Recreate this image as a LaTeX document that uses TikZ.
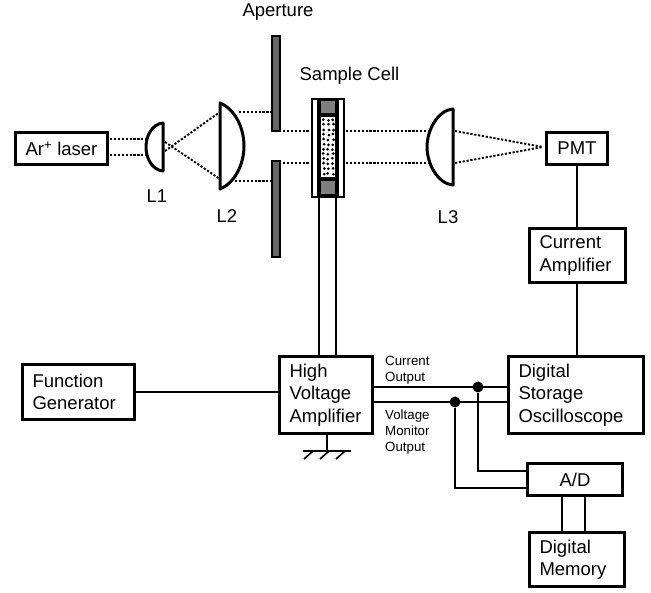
\documentclass[tikz,border=0pt]{standalone}
\usepackage{fontspec}
\setmainfont{Liberation Sans}

\begin{document}
\begin{tikzpicture}[x=1pt, y=-1pt, font=\fontsize{18.5}{22.5}\selectfont]
    \tikzstyle{box_black} = [draw=black, line width=3pt, fill=white, inner sep=0pt, inner xsep=10pt, align=left, anchor=north west]
    \tikzstyle{box_center} = [draw=black, line width=3pt, fill=white, inner sep=0pt, align=center, anchor=north west]
    \tikzstyle{label_small} = [inner sep=0pt, align=left, anchor=west, font=\fontsize{13.3}{16}\selectfont]
    \tikzstyle{label_plain} = [inner sep=0pt]
    \tikzstyle{wire_thin} = [black, line width=1.6pt]
    \tikzstyle{wire_thick} = [black, line width=2.2pt]
    \tikzstyle{beam_dot} = [black, line width=1.9pt, dash pattern=on 2.2pt off 1.7pt]
    \tikzstyle{lens_black} = [draw=black, line width=3pt, fill=white, line join=round]
    \tikzstyle{plate_grey} = [draw=black, line width=2.4pt, fill=black!60]
    \tikzstyle{dot_black} = [circle, fill=black, inner sep=0pt, minimum size=11pt]

    \useasboundingbox (0,0) rectangle (651,593);

    % boxes
    \node[box_center, minimum width=92pt, minimum height=32pt] (nLaser) at (14,131) {Ar\textsuperscript{+} laser};
    \node[box_center, minimum width=61pt, minimum height=32pt] (nPMT) at (545,131) {PMT};
    \node[box_black, minimum width=112pt, minimum height=55pt, text width=92pt] (nFunc) at (21,363) {Function\\Generator};
    \node[box_black, minimum width=96pt, minimum height=54pt, text width=76pt] (nCurr) at (528,227) {Current\\Amplifier};
    \node[box_black, minimum width=93pt, minimum height=77pt, text width=73pt] (nHigh) at (278,355) {High\\Voltage\\Amplifier};
    \node[box_black, minimum width=135pt, minimum height=77pt, text width=115pt] (nScope) at (507,355) {Digital\\Storage\\Oscilloscope};
    \node[box_center, minimum width=95pt, minimum height=32pt] (nAD) at (526,462) {A/D};
    \node[box_black, minimum width=95pt, minimum height=54pt, text width=75pt] (nMem) at (528,531) {Digital\\Memory};

    % beam
    \coordinate (bLa) at (110,139);
    \coordinate (bLb) at (110,155);
    \coordinate (bAa) at (147,139);
    \coordinate (bAb) at (147,155);
    \coordinate (bBa) at (165,142);
    \coordinate (bBb) at (165,151);
    \coordinate (bCa) at (220,112);
    \coordinate (bCb) at (220,179);
    \coordinate (bDa) at (239,112);
    \coordinate (bDb) at (235,181);
    \coordinate (bEa) at (271,112);
    \coordinate (bEb) at (271,181);
    \coordinate (bFa) at (283,131);
    \coordinate (bFb) at (283,163);
    \coordinate (bGa) at (310,131);
    \coordinate (bGb) at (310,163);
    \coordinate (bHa) at (346,131);
    \coordinate (bHb) at (346,163);
    \coordinate (bIa) at (432,131);
    \coordinate (bIb) at (432,163);
    \coordinate (bJa) at (455,131);
    \coordinate (bJb) at (455,163);
    \coordinate (bK) at (543,147);

    \draw[beam_dot] (bLa) -- (bAa);
    \draw[beam_dot] (bLb) -- (bAb);
    \draw[beam_dot] (bBa) -- (bCb);
    \draw[beam_dot] (bBb) -- (bCa);
    \draw[beam_dot] (bDa) -- (bEa);
    \draw[beam_dot] (bDb) -- (bEb);
    \draw[beam_dot] (bFa) -- (bGa);
    \draw[beam_dot] (bFb) -- (bGb);
    \draw[beam_dot] (bHa) -- (bIa);
    \draw[beam_dot] (bHb) -- (bIb);
    \draw[beam_dot] (bJa) -- (bK);
    \draw[beam_dot] (bJb) -- (bK);

    % lenses
    \draw[lens_black] (163,123) .. controls (152,124) and (146,136) .. (146,147) .. controls (146,158) and (152,170) .. (163,171) -- cycle;
    \draw[lens_black] (220,103) .. controls (235,109) and (244,128) .. (244,146) .. controls (244,164) and (235,183) .. (220,189) -- cycle;
    \draw[lens_black] (453,109) .. controls (438,110) and (427,130) .. (427,147) .. controls (427,164) and (438,184) .. (453,185) -- cycle;

    % aperture
    \draw[plate_grey] (272,36) rectangle (280,131);
    \draw[plate_grey] (272,161) rectangle (280,257);

    % sample cell
    \draw[draw=black, line width=2.4pt, fill=white] (312,99) rectangle (344,197);
    \fill[black] (317,99) rectangle (339,197);
    \fill[black!50] (321,101) rectangle (335,113);
    \fill[black!50] (321,181) rectangle (335,194);
    \fill[white] (321,117) rectangle (335,177);
    \pgfmathsetseed{7}
    \foreach \i in {0,...,11} {
        \foreach \j in {0,1,2} {
            \fill[black] ({323+\j*4.6+rnd*1.5},{119+\i*4.9+rnd*1.5}) circle (1.5pt);
        }
    }

    % wires
    \coordinate (wCa) at (319,197);
    \coordinate (wCb) at (336,197);
    \draw[wire_thin] (wCa) -- (wCa |- nHigh.north);
    \draw[wire_thin] (wCb) -- (wCb |- nHigh.north);
    \draw[wire_thick] (nPMT.south) -- (nCurr.north -| nPMT.south);
    \draw[wire_thick] (nCurr.south -| nPMT.south) -- (nScope.north -| nPMT.south);
    \draw[wire_thin] (nFunc.east |- 0,392) -- (nHigh.west |- 0,392);

    \coordinate (oCa) at (374,387);
    \coordinate (oCb) at (507,387);
    \coordinate (oVa) at (374,402);
    \coordinate (oVb) at (507,402);
    \draw[wire_thin] (oCa) -- (oCb);
    \draw[wire_thick] (oVa) -- (oVb);
    \node[dot_black] (nDotC) at (478,387) {};
    \node[dot_black] (nDotV) at (455,402) {};
    \draw[wire_thin] (nDotC) |- (nAD.west |- 0,471);
    \draw[wire_thin] (nDotV) |- (nAD.west |- 0,488);
    \draw[wire_thick] (562,497) -- (562,531);
    \draw[wire_thin] (585,497) -- (585,531);

    % ground
    \coordinate (gA) at (327,451);
    \draw[wire_thin] (nHigh.south -| gA) -- (gA);
    \draw[wire_thin] (303,451) -- (351,451);
    \foreach \x in {313,329,345} {
        \draw[wire_thin] (\x,451) -- (\x-9,459);
    }

    % labels
    \node[label_plain] (nAper) at (278,12) {Aperture};
    \node[label_plain] (nCell) at (349.5,76) {Sample Cell};
    \node[label_plain] (nLa) at (157,196) {L1};
    \node[label_plain] (nLb) at (227,216) {L2};
    \node[label_plain] (nLc) at (448,217) {L3};
    \node[label_small] (nCurOut) at (385,370) {Current\\Output};
    \node[label_small] (nVolOut) at (385,432) {Voltage\\Monitor\\Output};
\end{tikzpicture}
\end{document}
